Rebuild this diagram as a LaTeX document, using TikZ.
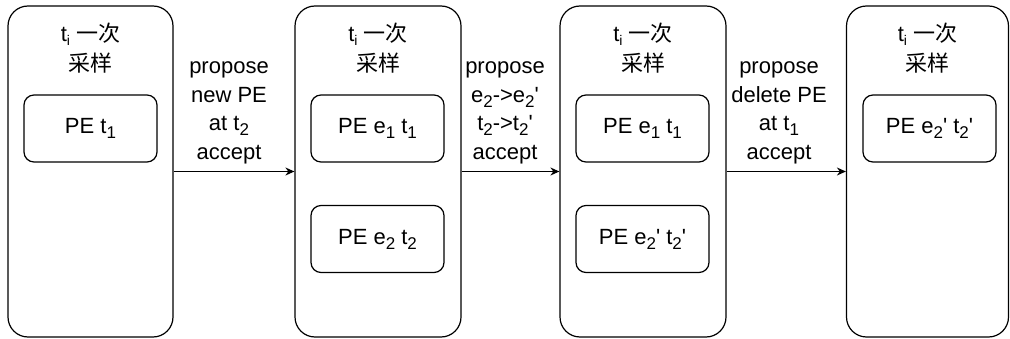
\documentclass[tikz,border=0pt]{standalone}
\usepackage{fontspec}
\newfontfamily\lib{Liberation Sans}
\newfontfamily\cjk{Noto Sans CJK SC}
\usetikzlibrary{arrows.meta}
% lowered, slightly smaller index text
\newcommand{\lo}[1]{\raisebox{-5pt}{\fontsize{17}{17}\selectfont #1}}
\newcommand{\loi}[1]{\raisebox{-4pt}{\fontsize{14}{14}\selectfont #1}}
\tikzset{
  stage/.style={draw, line width=1.2pt, rounded corners=20pt, fill=white,
    minimum height=331pt, inner sep=0pt},
  pebox/.style={draw, line width=1.2pt, rounded corners=10pt, fill=white,
    minimum width=133pt, minimum height=67pt, inner sep=0pt,
    font=\lib\fontsize{22}{26}\selectfont},
  title/.style={align=center, inner sep=0pt, font=\lib\fontsize{22}{30}\selectfont},
  lab/.style={align=center, inner sep=0pt, font=\lib\fontsize{22}{28.5}\selectfont},
  flow/.style={line width=1.2pt, -{Stealth[length=9pt,width=8pt]}},
}
\begin{document}
\begin{tikzpicture}[x=1pt,y=-1pt]
\useasboundingbox (0,0) rectangle (1010,339);

% four sampling stages
\node[stage, minimum width=165pt] (s1) at (90.5,171.5) {};
\node[stage, minimum width=166pt] (s2) at (378,171.5) {};
\node[stage, minimum width=166pt] (s3) at (643,171.5) {};
\node[stage, minimum width=162pt] (s4) at (927.5,171.5) {};

% stage titles
\node[title] (h1) at (90.5,48) {t\loi{i} {\cjk 一次}\\{\cjk 采样}};
\node[title] (h2) at (378,48) {t\loi{i} {\cjk 一次}\\{\cjk 采样}};
\node[title] (h3) at (643,48) {t\loi{i} {\cjk 一次}\\{\cjk 采样}};
\node[title] (h4) at (927.5,48) {t\loi{i} {\cjk 一次}\\{\cjk 采样}};

% particle entries
\node[pebox] (p1) at (90.5,128.5) {PE t\lo{1}};
\node[pebox] (p2a) at (377.5,128.5) {PE e\lo{1} t\lo{1}};
\node[pebox] (p2b) at (377.5,239) {PE e\lo{2} t\lo{2}};
\node[pebox] (p3a) at (642.5,128.5) {PE e\lo{1} t\lo{1}};
\node[pebox] (p3b) at (642.5,239) {PE e\lo{2}' t\lo{2}'};
\node[pebox] (p4) at (929.5,128.5) {PE e\lo{2}' t\lo{2}'};

% transitions
\draw[flow] (s1.east) -- (s2.west);
\draw[flow] (s2.east) -- (s3.west);
\draw[flow] (s3.east) -- (s4.west);

% transition labels
\node[lab] (l1) at (229,113) {propose\\new PE\\at t\lo{2}\\accept};
\node[lab] (l2) at (505,113) {propose\\e\lo{2}->e\lo{2}'\\t\lo{2}->t\lo{2}'\\accept};
\node[lab] (l3) at (779,113) {propose\\delete PE\\at t\lo{1}\\accept};
\end{tikzpicture}
\end{document}
